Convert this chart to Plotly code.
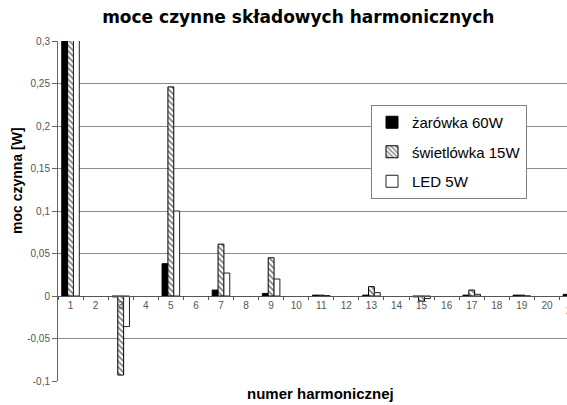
import plotly.graph_objects as go

harmonics = [str(i) for i in range(1, 22)]
zarowka = [60, None, -0.001, None, 0.038, None, 0.007, None, 0.003, None, 0.001, None, 0.001, None, -0.001, None, 0.001, None, 0.001, None, 0.002]
swietlowka = [15, None, -0.093, None, 0.246, None, 0.061, None, 0.045, None, 0.001, None, 0.011, None, -0.006, None, 0.007, None, 0.001, None, 0.001]
led = [5, None, -0.036, None, 0.100, None, 0.027, None, 0.020, None, 0.0005, None, 0.004, None, -0.003, None, 0.002, None, 0, None, 0.001]

ytick_vals = [-0.1, -0.05, 0, 0.05, 0.1, 0.15, 0.2, 0.25, 0.3]
ytick_text = ["-0,1", "-0,05", "0", "0,05", "0,1", "0,15", "0,2", "0,25", "0,3"]

names = ["żarówka 60W", "świetlówka 15W", "LED 5W"]

fig = go.Figure()
fig.add_trace(go.Bar(
    x=harmonics, y=zarowka, name=names[0], legendgroup="a",
    marker=dict(color="black", line=dict(color="black", width=1)),
))
fig.add_trace(go.Bar(
    x=harmonics, y=swietlowka, name=names[1], legendgroup="b",
    marker=dict(color="white", line=dict(color="black", width=1),
                pattern=dict(shape="\\", fgcolor="black", bgcolor="white", size=4, solidity=0.45)),
))
fig.add_trace(go.Bar(
    x=harmonics, y=led, name=names[2], legendgroup="c",
    marker=dict(color="white", line=dict(color="#222222", width=1)),
))

fig.update_layout(
    width=567, height=405,
    margin=dict(l=58, r=0, t=41, b=24, autoexpand=False),
    paper_bgcolor="white", plot_bgcolor="white",
    barmode="group", bargap=0.3, bargroupgap=0,
    font=dict(family="Liberation Sans, Arial, sans-serif", color="#444444"),
    title=dict(text="<b>moce czynne składowych harmonicznych</b>",
               font=dict(family="DejaVu Sans, Verdana, sans-serif", size=17, color="black"),
               x=0.526, xref="container", xanchor="center",
               y=1 - 17 / 405, yref="container", yanchor="middle"),
    legend=dict(x=(371 - 58) / 509, y=(381 - 105) / 340, xanchor="left", yanchor="top",
                bgcolor="white", bordercolor="#808080", borderwidth=1,
                font=dict(size=15, color="black", family="Liberation Sans, Arial, sans-serif"),
                tracegroupgap=7, itemwidth=30),
    showlegend=True,
)

fig.update_yaxes(
    range=[-0.1, 0.3], tickvals=ytick_vals, ticktext=ytick_text,
    showgrid=True, gridcolor="#8c8c8c", gridwidth=1,
    zeroline=False, showline=True, linecolor="#666666", linewidth=1,
    ticks="outside", ticklen=5, tickcolor="#666666",
    tickfont=dict(size=10, color="#555555"), automargin=False,
)
fig.update_xaxes(
    type="category", range=[-0.5, 19.8],
    anchor="free", position=0.25,
    showgrid=False, showline=True, linecolor="#555555", linewidth=1,
    ticks="outside", tickson="boundaries", ticklen=3, tickcolor="#555555",
    tickfont=dict(size=10, color="#555555"), automargin=False,
)

fig.add_annotation(text="<b>moc czynna [W]</b>", textangle=-90,
                   x=(17 - 58) / 509, y=(381 - 181) / 340, xref="paper", yref="paper",
                   showarrow=False, xanchor="center", yanchor="middle",
                   font=dict(size=14, color="black", family="Liberation Sans, Arial, sans-serif"))
fig.add_annotation(text="<b>numer harmonicznej</b>",
                   x=(320 - 58) / 509, y=(381 - 393) / 340, xref="paper", yref="paper",
                   showarrow=False, xanchor="center", yanchor="middle",
                   font=dict(size=15, color="black", family="Liberation Sans, Arial, sans-serif"))
fig.add_annotation(text=harmonics[-1],
                   x=(572 - 58) / 509, y=(381 - 310) / 340, xref="paper", yref="paper",
                   showarrow=False, xanchor="center", yanchor="middle",
                   font=dict(size=10, color="#555555"))

fig.write_html("out.html", config={"displayModeBar": False},
               post_script="document.body.style.margin='0';")
